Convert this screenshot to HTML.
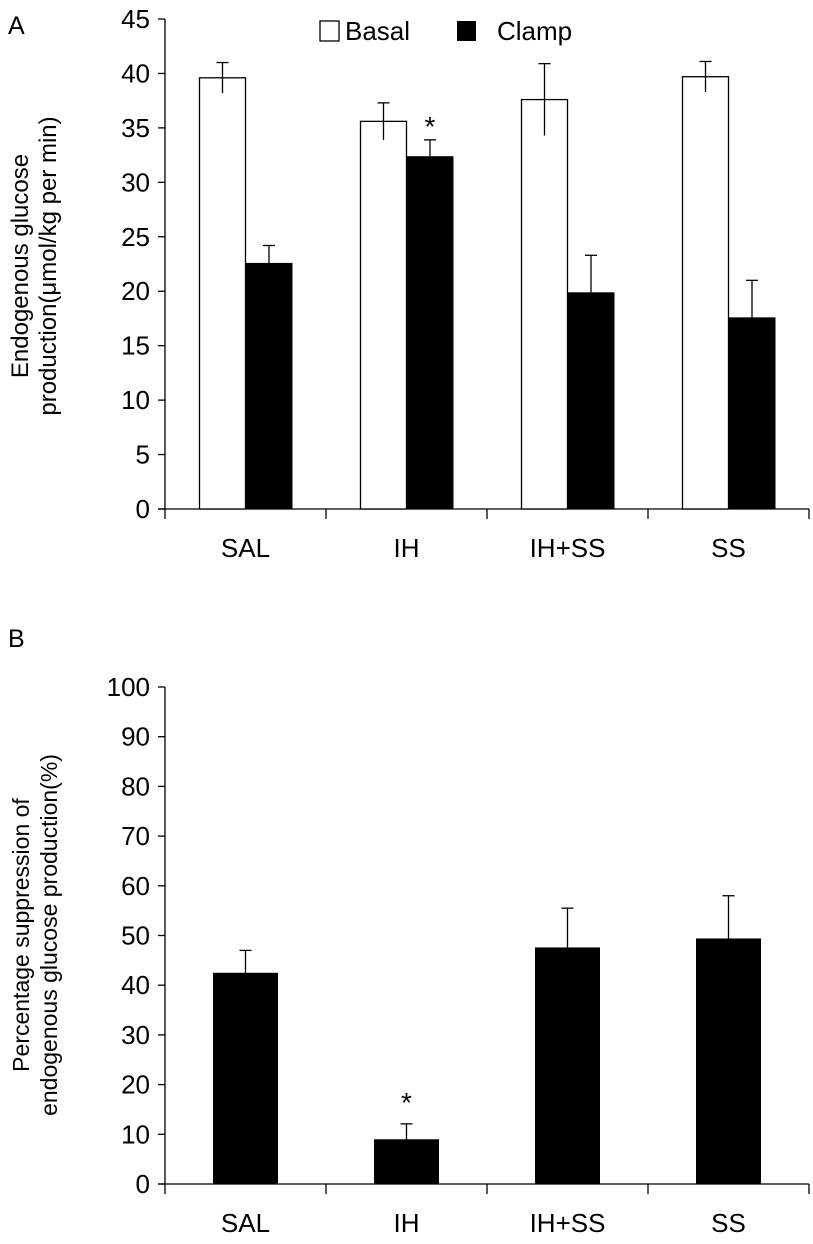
<!DOCTYPE html>
<html><head><meta charset="utf-8"><style>
body{margin:0;background:#fff;}
svg{display:block;font-family:"Liberation Sans Narrow","Liberation Sans",sans-serif;}
.w{font-family:"Liberation Sans",sans-serif;}
</style></head><body>
<svg id="chart" width="813" height="1244" viewBox="0 0 813 1244" xmlns="http://www.w3.org/2000/svg">
<text x="8" y="34" font-size="25">A</text>
<text x="8" y="647" font-size="25">B</text>
<g>
<rect x="320" y="21" width="19" height="20" fill="#fff" stroke="#000" stroke-width="1.3"/>
<text x="345" y="40" font-size="26">Basal</text>
<rect x="457" y="21" width="19" height="20" fill="#000"/>
<text x="497" y="40" font-size="26">Clamp</text>
</g>
<text class="w" transform="translate(28,266) rotate(-90)" text-anchor="middle" font-size="24">Endogenous glucose</text>
<text class="w" transform="translate(56,266) rotate(-90)" text-anchor="middle" font-size="24">production(μmol/kg per min)</text>
<text class="w" transform="translate(29,935) rotate(-90)" text-anchor="middle" font-size="23">Percentage suppression of</text>
<text class="w" transform="translate(57,935) rotate(-90)" text-anchor="middle" font-size="23">endogenous glucose production(%)</text>
<g id="gA"></g><g id="gB"></g>
</svg>
<script>
const categories = ["SAL","IH","IH+SS","SS"];
const basalValues = [39.6, 35.6, 37.6, 39.7];
const basalErr = [1.4, 1.7, 3.3, 1.4];
const clampValues = [22.6, 32.4, 19.9, 17.6];
const clampErr = [1.6, 1.5, 3.4, 3.4];
const aTicks = [0,5,10,15,20,25,30,35,40,45];
const suppValues = [42.5, 9.0, 47.6, 49.4];
const suppErr = [4.5, 3.1, 7.9, 8.6];
const bTicks = [0,10,20,30,40,50,60,70,80,90,100];
const NS="http://www.w3.org/2000/svg";
function mk(p,t,a){const e=document.createElementNS(NS,t);for(const k in a)e.setAttribute(k,a[k]);p.appendChild(e);return e;}
const x0=165,x1=809,cw=(x1-x0)/categories.length;
const cx=i=>x0+cw*(i+0.5);
const yA=v=>509-v*(509-19)/45;
const yB=v=>1184-v*(1184-687)/100;
const gA=document.getElementById('gA'),gB=document.getElementById('gB');
function axes(g,y,ticks,ytop,ybot,pre){
  let l=mk(g,'line',{x1:x0,y1:ytop,x2:x0,y2:ybot,stroke:'#000','stroke-width':1.3});
  
  
  l=mk(g,'line',{x1:x0-7,y1:ybot,x2:x1,y2:ybot,stroke:'#000','stroke-width':1.3});
  
  
  ticks.forEach(t=>{
    mk(g,'line',{x1:x0-7,y1:y(t),x2:x0,y2:y(t),stroke:'#000','stroke-width':1.3});
    const tx=mk(g,'text',{x:150,y:y(t)+9,'text-anchor':'end','font-size':26});
    tx.textContent=t;
    
    
  });
  for(let i=0;i<=categories.length;i++) mk(g,'line',{x1:x0+cw*i,y1:ybot,x2:x0+cw*i,y2:ybot+10,stroke:'#000','stroke-width':1.3});
  categories.forEach((c,i)=>{
    const tx=mk(g,'text',{x:cx(i),y:ybot+48,'text-anchor':'middle','font-size':26});
    tx.textContent=c;
    
    
  });
}
function err(g,x,ytop,yv){
  mk(g,'line',{x1:x,y1:ytop,x2:x,y2:yv,stroke:'#000','stroke-width':1.3});
  mk(g,'line',{x1:x-6,y1:ytop,x2:x+6,y2:ytop,stroke:'#000','stroke-width':1.3});
}
axes(gA,yA,aTicks,19,509,'panel-a');
categories.forEach((c,i)=>{
  const c0=cx(i);
  let r=mk(gA,'rect',{x:c0-46,y:yA(basalValues[i]),width:46,height:509-yA(basalValues[i]),fill:'#fff',stroke:'#000','stroke-width':1.3});
  
  
  err(gA,c0-23,yA(basalValues[i]+basalErr[i]),yA(basalValues[i]-basalErr[i]));
  r=mk(gA,'rect',{x:c0,y:yA(clampValues[i]),width:47,height:509-yA(clampValues[i]),fill:'#000'});
  
  
  err(gA,c0+23.5,yA(clampValues[i]+clampErr[i]),yA(clampValues[i]));
});
let s=mk(gA,'text',{x:cx(1)+23.5,y:yA(clampValues[1]+clampErr[1])-4,'text-anchor':'middle','font-size':28});
s.textContent='*';


axes(gB,yB,bTicks,687,1184,'panel-b');
categories.forEach((c,i)=>{
  const c0=cx(i);
  const r=mk(gB,'rect',{x:c0-32.5,y:yB(suppValues[i]),width:65,height:1184-yB(suppValues[i]),fill:'#000'});
  
  
  err(gB,c0,yB(suppValues[i]+suppErr[i]),yB(suppValues[i]));
});
s=mk(gB,'text',{x:cx(1),y:yB(suppValues[1]+suppErr[1])-12,'text-anchor':'middle','font-size':28});
s.textContent='*';


</script>
</body></html>
